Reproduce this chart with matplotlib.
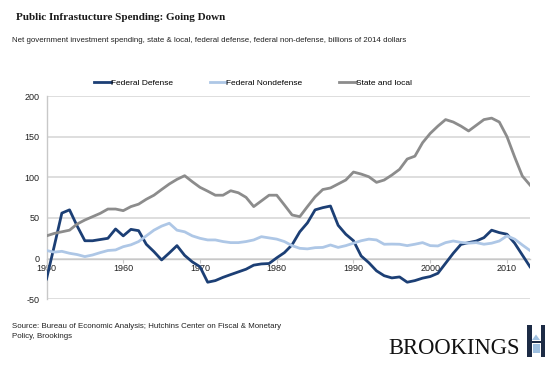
import matplotlib
matplotlib.use("Agg")
import matplotlib.pyplot as plt
from matplotlib.patches import Rectangle, Polygon

years = list(range(1950, 2014))

federal_defense = [-25, 15, 56, 60, 40, 22, 22, 23.5, 25, 36.5, 28, 36, 34.4, 17.7, 8.6, -1.6,
                   7, 16, 4, -4, -10, -29, -27, -23, -19.6, -16.3, -13, -8, -6.5, -6,
                   1, 7.4, 17, 33, 44, 60, 62.7, 64.7, 41, 30, 22, 3.3, -5, -15, -21, -23.7,
                   -22.5, -29, -27, -24, -22, -18, -5.7, 6.6, 17.5, 19.7, 21.7, 25.8, 35, 32,
                   30, 19, 4.5, -10]

federal_nondefense = [10, 8, 9, 6.6, 5, 2.5, 4.5, 7.4, 10, 10.7, 14.7, 17, 21, 28, 35, 40,
                      43.5, 35, 33, 28, 25, 23, 23, 21, 19.7, 19.7, 21, 23, 27, 25.5,
                      24, 21, 16, 12.7, 12, 13.5, 13.8, 16.8, 13.8, 16, 19, 22, 24, 23, 17.7,
                      17.9, 17.7, 16, 17.7, 19.7, 16, 15.6, 19.7, 21.7, 20, 19, 19.7, 17.7, 19,
                      21.7, 28, 24, 16.8, 10]

state_local = [28, 31, 33, 35, 42.6, 47.5, 51.6, 55.7, 61, 61, 59, 64, 67, 73, 78, 85,
               91.8, 97.5, 102, 94.6, 87.7, 83, 78, 78, 83.5, 81, 75.4, 64, 71, 78,
               78, 66, 53.7, 51.6, 64, 76, 85, 86.9, 91.8, 96.7, 106.5, 104, 100.7, 93.8,
               96.7, 102.8, 109.8, 122.5, 126, 142.5, 154, 163, 171, 168, 163, 157, 164,
               171, 172.8, 168, 150, 125, 101.6, 90.5]

series_names = ["Federal Defense", "Federal Nondefense", "State and local"]
series_colors = ["#1c3f75", "#aec7e6", "#8c8c8c"]
yticks = [-50, 0, 50, 100, 150, 200]
xticks = [1950, 1960, 1970, 1980, 1990, 2000, 2010]

W, H = 553, 369
fig = plt.figure(figsize=(W / 100, H / 100), dpi=100)
fig.patch.set_facecolor("white")

def fx(px):
    return px / W

def fy(py):
    return 1 - py / H

left, right, top, bottom = 46.5, 530, 96, 299.3
ax = fig.add_axes([fx(left), fy(bottom), fx(right) - fx(left), fy(top) - fy(bottom)])

for vals, name, col in zip([federal_defense, federal_nondefense, state_local], series_names, series_colors):
    ax.plot(years, vals, color=col, lw=2.0, label=name, solid_joinstyle="round", zorder=3)

ax.set_xlim(1950, 2013)
ax.set_ylim(-50, 200)
ax.set_yticks(yticks)
ax.set_yticklabels([str(v) for v in yticks])
ax.set_xticks(xticks)
ax.set_xticklabels([str(v) for v in xticks])
ax.grid(axis="y", color="#d4d4d4", lw=1.1, zorder=0)
for s in ["top", "right"]:
    ax.spines[s].set_visible(False)
ax.spines["left"].set_color("#c8c8c8")
ax.spines["left"].set_linewidth(1.0)
ax.spines["bottom"].set_position(("data", 0))
ax.spines["bottom"].set_color("#c8c8c8")
ax.spines["bottom"].set_linewidth(1.0)
ax.tick_params(axis="y", length=0, pad=5, labelsize=6.5, labelcolor="#222222")
ax.tick_params(axis="x", length=3, width=0.8, color="#c8c8c8", pad=1.2, labelsize=6.5,
               labelcolor="#222222")
for lab in ax.get_xticklabels() + ax.get_yticklabels():
    lab.set_family(["Liberation Sans", "DejaVu Sans"])

leg = fig.legend(loc="center", bbox_to_anchor=(fx(253), fy(83.3)), ncol=3, frameon=False,
                 handlelength=2.0, handletextpad=0.0, columnspacing=4.4,
                 prop={"family": "Liberation Sans", "size": 6})

fig.text(fx(16), fy(17), "Public Infrastucture Spending: Going Down", family="Liberation Serif",
         fontsize=8.0, fontweight="bold", color="#1a1a1a", va="center", ha="left")
fig.text(fx(11.5), fy(40), "Net government investment spending, state & local, federal defense, "
         "federal non-defense, billions of 2014 dollars", family="Liberation Sans",
         fontsize=5.7, color="#222222", va="center", ha="left")
fig.text(fx(12), fy(326), "Source: Bureau of Economic Analysis; Hutchins Center on Fiscal & Monetary",
         family="Liberation Sans", fontsize=5.7, color="#222222", va="center", ha="left")
fig.text(fx(12), fy(336), "Policy, Brookings",
         family="Liberation Sans", fontsize=5.7, color="#222222", va="center", ha="left")
fig.text(fx(520), fy(354.5), "BROOKINGS", family="Liberation Serif", fontsize=16.3,
         color="#111111", va="baseline", ha="right")

# logo mark
def rect(x0, y0, x1, y1, col):
    fig.patches.append(Rectangle((fx(x0), fy(y1)), fx(x1) - fx(x0), fy(y0) - fy(y1),
                                 transform=fig.transFigure, color=col, lw=0))

navy = "#1d2b45"
lb = "#9fc0e0"
rect(527, 325, 531.5, 357, navy)
rect(540.5, 325, 545, 357, navy)
fig.patches.append(Polygon([(fx(532), fy(340)), (fx(536), fy(334.5)), (fx(540), fy(340))],
                           closed=True, transform=fig.transFigure, color=lb, lw=0))
rect(531.5, 340.5, 540.5, 342.5, navy)
rect(532.5, 343.5, 539.5, 352.5, lb)
for cx in [534, 536, 538]:
    rect(cx - 0.4, 345, cx + 0.4, 351.5, "#ffffff")

fig.savefig("out.png", dpi=100, facecolor="white")
